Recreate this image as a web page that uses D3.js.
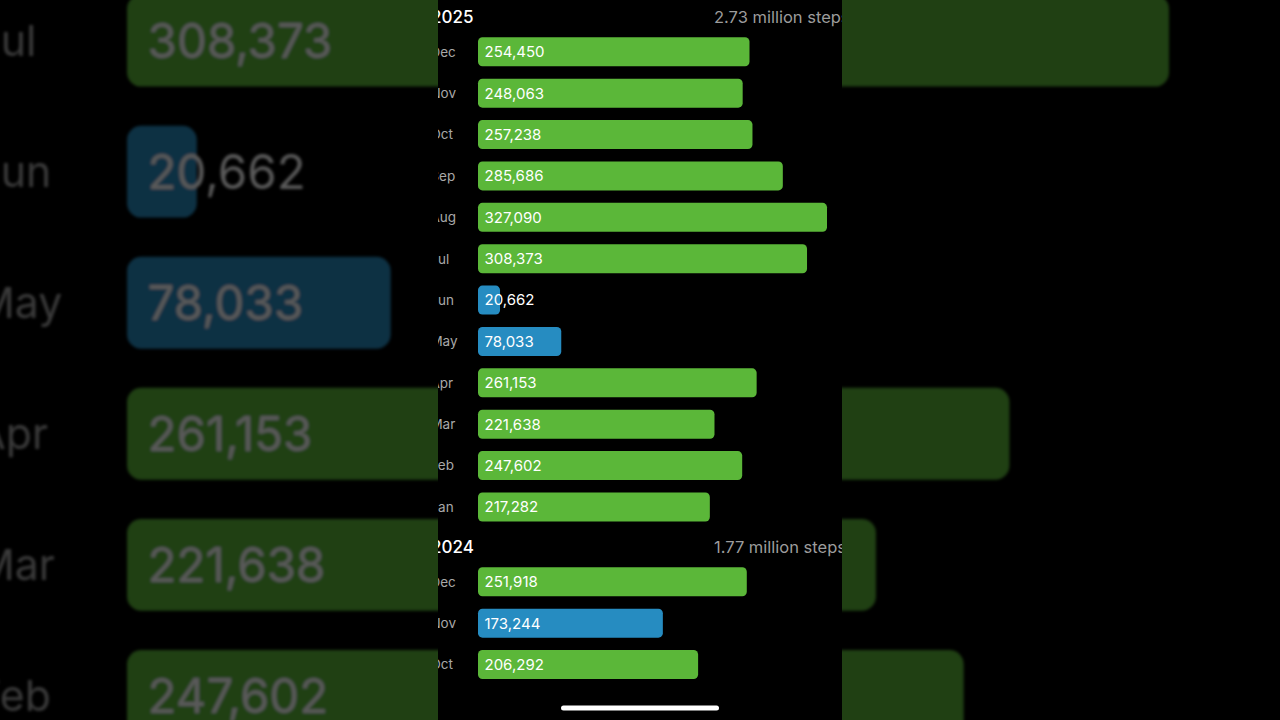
<!DOCTYPE html>
<html>
<head>
<meta charset="utf-8">
<script src="https://cdn.jsdelivr.net/npm/d3@7/dist/d3.min.js"></script>
<style>
  html, body { margin: 0; padding: 0; background: #000; }
  svg { display: block; }
</style>
</head>
<body>
<svg id="chart" width="1280" height="720"></svg>
<script>
// ---- data ----
const years = ["2025", "2024"];
const totals = ["2.73 million steps", "1.77 million steps"];
const months2025 = ["Dec", "Nov", "Oct", "Sep", "Aug", "Jul", "Jun", "May", "Apr", "Mar", "Feb", "Jan"];
const values2025 = [254450, 248063, 257238, 285686, 327090, 308373, 20662, 78033, 261153, 221638, 247602, 217282];
const months2024 = ["Dec", "Nov", "Oct"];
const values2024 = [251918, 173244, 206292];
const goal = 200000; // below goal -> blue bar

const sections = [
  { year: years[0], total: totals[0], months: months2025, values: values2025 },
  { year: years[1], total: totals[1], months: months2024, values: values2024 }
];

const W = 1280, H = 720;
const panelX0 = 438, panelX1 = 842;
const green = "#5bb739", blue = "#268cc1";
const font = "Inter, 'Open Sans', sans-serif";

const svg = d3.select("#chart");
svg.append("rect").attr("width", W).attr("height", H).attr("fill", "#000");

const x = d3.scaleLinear().domain([0, 327090]).range([478, 827]);
const rowStep = 41.38, headerGap = 34.8, sectionGap = 40, firstHeaderY = 17;

// build layout
const rows = [], headers = [];
let yCur = firstHeaderY;
sections.forEach(s => {
  headers.push({ year: s.year, total: s.total, y: yCur });
  let y = yCur + headerGap;
  s.months.forEach((m, i) => {
    rows.push({ month: m, value: s.values[i], y: y });
    y += rowStep;
  });
  yCur = y - rowStep + sectionGap;
});

const defs = svg.append("defs");
defs.append("filter").attr("id", "blur").attr("x", "-10%").attr("y", "-10%").attr("width", "120%").attr("height", "120%")
  .append("feGaussianBlur").attr("stdDeviation", 0.45);
defs.append("clipPath").attr("id", "panelClip")
  .append("rect").attr("x", panelX0).attr("y", 0).attr("width", panelX1 - panelX0).attr("height", H);

function drawChart(g) {
  const bh = 29;
  g.selectAll("rect.bar").data(rows).join("rect")
    .attr("class", "bar")
    .attr("x", x(0))
    .attr("y", d => d.y - bh / 2)
    .attr("width", d => x(d.value) - x(0))
    .attr("height", bh)
    .attr("rx", 4.5)
    .attr("fill", d => d.value < goal ? blue : green);
  g.selectAll("text.val").data(rows).join("text")
    .attr("class", "val")
    .attr("x", x(0) + 6.5)
    .attr("y", d => d.y)
    .attr("dy", "0.36em")
    .attr("fill", "#fff")
    .style("font", `400 15px ${font}`)
    .text(d => d3.format(",")(d.value));
  g.selectAll("text.mon").data(rows).join("text")
    .attr("class", "mon")
    .attr("x", 430.4)
    .attr("y", d => d.y)
    .attr("dy", "0.36em")
    .attr("fill", "#a8a8a8")
    .style("font", `400 13.5px ${font}`)
    .text(d => d.month);
  g.selectAll("text.yr").data(headers).join("text")
    .attr("class", "yr")
    .attr("x", 431)
    .attr("y", d => d.y)
    .attr("dy", "0.36em")
    .attr("fill", "#fff")
    .style("font", `500 17px ${font}`)
    .text(d => d.year);
  g.selectAll("text.tot").data(headers).join("text")
    .attr("class", "tot")
    .attr("x", 714)
    .attr("y", d => d.y)
    .attr("dy", "0.36em")
    .attr("fill", "#9c9c9c")
    .style("font", `400 16.5px ${font}`)
    .text(d => d.total);
}

// blurred, dimmed, magnified background copy
const k = 3.167;
const bg = svg.append("g").attr("opacity", 0.35);
const bgInner = bg.append("g")
  .attr("transform", `translate(${127 - k * 478},${40 - k * 258.5}) scale(${k})`)
  .attr("filter", "url(#blur)");
drawChart(bgInner);

// foreground panel
svg.append("rect").attr("x", panelX0).attr("y", 0).attr("width", panelX1 - panelX0).attr("height", H).attr("fill", "#000");
const fg = svg.append("g").attr("clip-path", "url(#panelClip)");
drawChart(fg);

// home indicator
svg.append("rect").attr("x", 561).attr("y", 705.5).attr("width", 158).attr("height", 5).attr("rx", 2.5).attr("fill", "#fff");
</script>
</body>
</html>
